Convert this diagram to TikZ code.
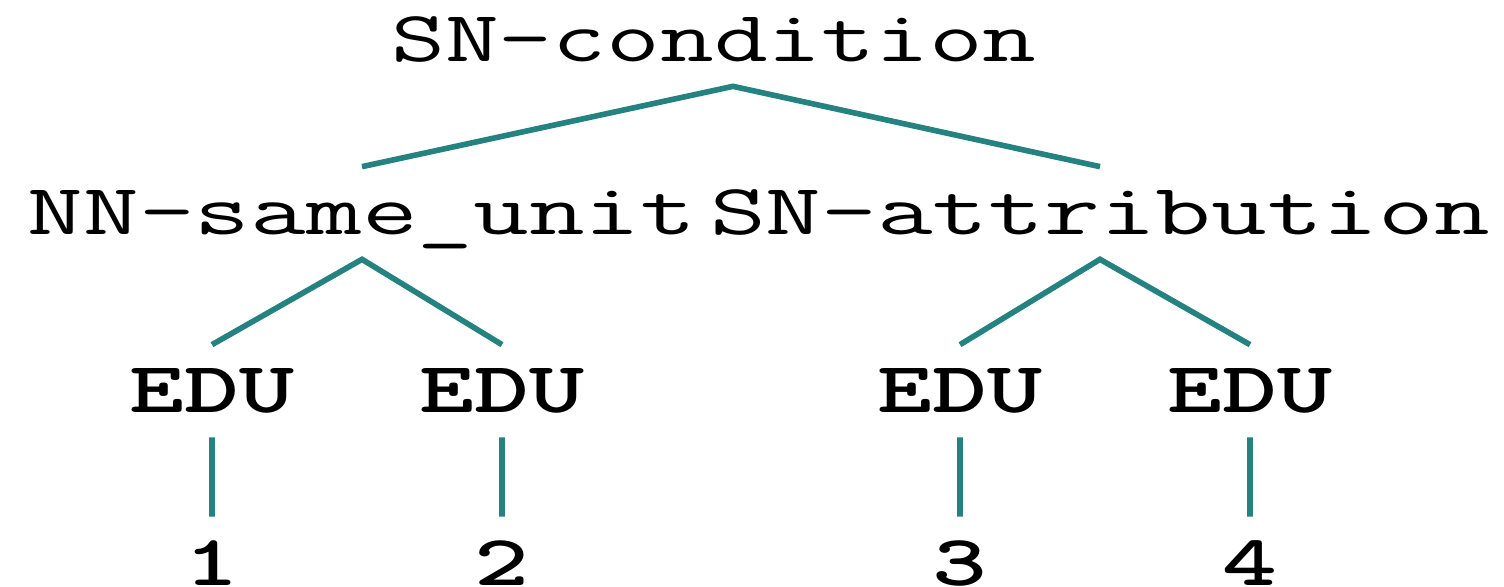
\documentclass[tikz,border=0pt]{standalone}
\usepackage{fontspec}
\definecolor{rstteal}{RGB}{36,130,128}

\begin{document}
\begin{tikzpicture}[x=0.02cm,y=-0.02cm,
  lbl/.style={anchor=base,font=\ttfamily\fontsize{41}{41}\selectfont,xscale=1.45,
    inner xsep=0pt,inner ysep=0.48cm,text height=0.88cm,text depth=0pt},
  wide/.style={lbl,xscale=1.035},
  edu/.style={lbl,font=\ttfamily\fontsize{41}{41}\selectfont\bfseries},
  branch/.style={draw=rstteal,line width=3.2pt}]
  \useasboundingbox (0,0) rectangle (1504,587);
  \node[lbl] (cond) at (714,62) {SN-condition};
  \node[wide] (same) at (362,235) {NN-same\_unit};
  \node[wide] (attr) at (1100,235) {SN-attribution};
  \foreach \x/\n in {212/1, 502/2, 960/3, 1250/4}
  {
    \node[edu] (edu\n) at (\x,413) {EDU};
    \node[edu] (num\n) at (\x,585) {\n};
    \draw[branch] (edu\n) -- (num\n);
  }
  \draw[branch] (same.north) -- ([xshift=0.38cm]cond.south) -- (attr.north);
  \draw[branch] (edu1.north) -- (same.south) -- (edu2.north);
  \draw[branch] (edu3.north) -- (attr.south) -- (edu4.north);
\end{tikzpicture}
\end{document}
